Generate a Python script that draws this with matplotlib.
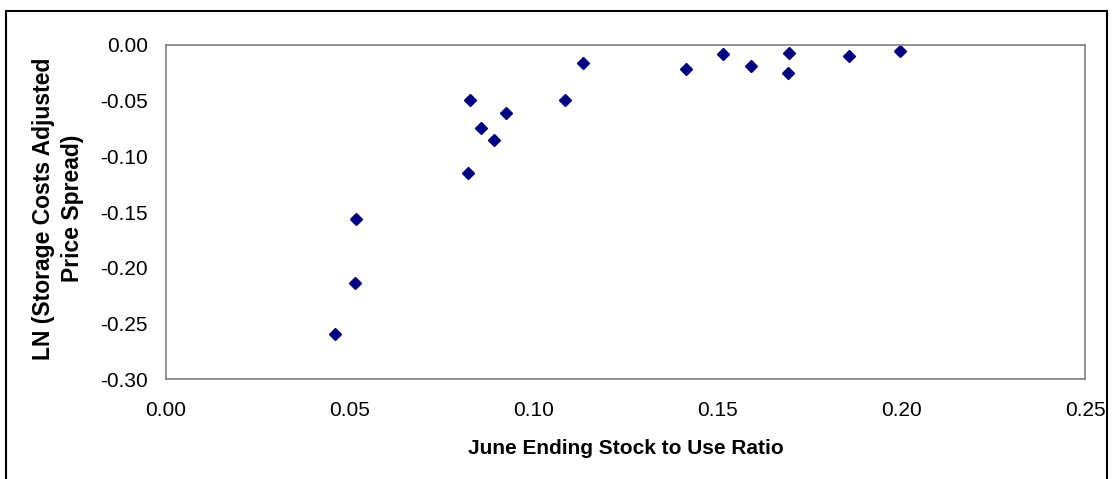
import matplotlib
matplotlib.use("Agg")
import matplotlib.pyplot as plt
from matplotlib.patches import Rectangle

plt.rcParams['font.family'] = ['Liberation Sans', 'DejaVu Sans']

# stock to use ratio vs log of storage-cost adjusted spread
stock_ratio = [0.1135, 0.0827, 0.1085, 0.0924, 0.0857, 0.0893, 0.0822,
               0.0518, 0.0513, 0.0461, 0.1414, 0.1515, 0.1591, 0.1696,
               0.1691, 0.1859, 0.1996]
ln_spread = [-0.0159, -0.0494, -0.0494, -0.0611, -0.0743, -0.0857, -0.1153,
             -0.1560, -0.2141, -0.2594, -0.0219, -0.0084, -0.0189, -0.0072,
             -0.0249, -0.0102, -0.0057]

x_ticks = [0.00, 0.05, 0.10, 0.15, 0.20, 0.25]
y_ticks = [0.00, -0.05, -0.10, -0.15, -0.20, -0.25, -0.30]

fig = plt.figure(figsize=(11.13, 4.79), dpi=100)
ax = fig.add_axes([166/1113, 1 - 379/479, (1085 - 166)/1113, (379 - 45)/479])

ax.plot(stock_ratio, ln_spread, linestyle='none', marker='D', ms=5.8,
        color='#000080', clip_on=False)

ax.set_xlim(0, 0.25)
ax.set_ylim(-0.30, 0.00)
ax.set_xticks(x_ticks)
ax.set_yticks(y_ticks)
ax.set_xticklabels(['%.2f' % v for v in x_ticks])
ax.set_yticklabels(['%.2f' % v for v in y_ticks])
ax.tick_params(length=0, labelsize=15)
ax.tick_params(axis='x', pad=16)
ax.tick_params(axis='y', pad=13)

for s in ax.spines.values():
    s.set_color('#808080')
    s.set_linewidth(1.2)

ax.set_xlabel('June Ending Stock to Use Ratio', fontsize=15, fontweight='bold', va='center')
ax.set_ylabel('LN (Storage Costs Adjusted\nPrice Spread)', fontsize=16.5,
              fontweight='bold', va='center', linespacing=1.35)
ax.xaxis.set_label_coords(0.5, (379 - 448) / 334)
ax.yaxis.set_label_coords((58 - 166) / 919, 0.51)

# outer chart border
fig.patches.append(Rectangle((6/1113, -0.05), (1107 - 6)/1113, 1.05 - 11/479,
                             transform=fig.transFigure, fill=False,
                             edgecolor='black', linewidth=1.5))

fig.savefig('out.png', dpi=100)
